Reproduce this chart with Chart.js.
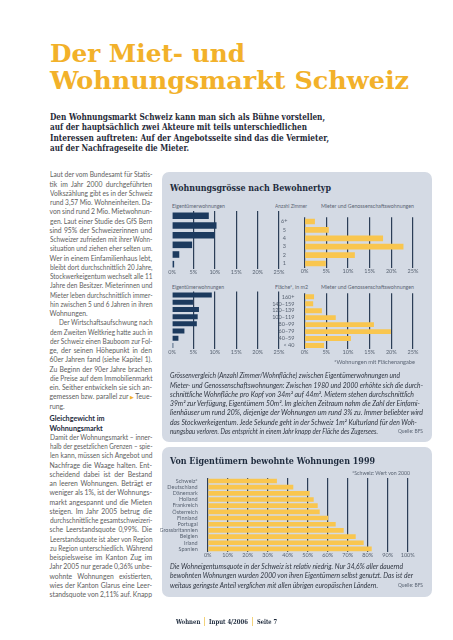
<!DOCTYPE html>
<html lang="de">
<head>
<meta charset="utf-8">
<title>Der Miet- und Wohnungsmarkt Schweiz</title>
<script src="https://cdn.jsdelivr.net/npm/chart.js@4.4.1/dist/chart.umd.min.js"></script>
<style>
html, body { margin: 0; background: #fff; }
#page { position: relative; width: 453px; height: 640px; overflow: hidden; font-family: Lato, "Open Sans", sans-serif; }
.abs { position: absolute; white-space: nowrap; }
.slab { font-family: "DejaVu Serif Condensed", "DejaVu Serif", serif; font-weight: bold; }
.fit { display: inline-block; transform-origin: 0 50%; }
canvas { position: absolute; }
.panel { position: absolute; background: #d4dae4; border-radius: 7px; }
.hl { left: 50px; font-size: 25px; line-height: 25px; color: #f2b12a; }
.lead { left: 50px; font-size: 8.8px; line-height: 10.3px; color: #1f2937; }
.ptitle { left: 170px; font-size: 9.5px; line-height: 11px; color: #1e2b3d; }
.sub { font-size: 5.5px; line-height: 7px; color: #5a6473; }
.col { position: absolute; left: 49.5px; width: 102.5px; font-size: 6.8px; line-height: 9.25px; color: #5e5e5e; }
.col div { white-space: nowrap; height: 9.25px; }
.col span { display: inline-block; transform-origin: 0 50%; }
.col .h { font-weight: bold; color: #1e2b3d; font-size: 7.2px; }
.cap { position: absolute; left: 170px; font-style: italic; font-size: 7.3px; line-height: 9.3px; color: #2f3540; }
.cap div { white-space: nowrap; height: 9.3px; }
.tri { color: #f2b12a; font-family: "DejaVu Sans", sans-serif; font-size: 5px; }
.foot { font-size: 6.8px; line-height: 8px; color: #1e2b3d; top: 618px; }
.sep { position: absolute; top: 617px; width: 1px; height: 9px; background: #f3d27a; }
</style>
</head>
<body>
<div id="page">

  <div class="abs slab hl" style="top:41px"><span class="fit" data-w="195">Der Miet- und</span></div>
  <div class="abs slab hl" style="top:68px"><span class="fit" data-w="359">Wohnungsmarkt Schweiz</span></div>

  <div class="abs slab lead" style="top:112px"><span class="fit" data-w="275">Den Wohnungsmarkt Schweiz kann man sich als Bühne vorstellen,</span></div>
  <div class="abs slab lead" style="top:122.3px"><span class="fit" data-w="257">auf der hauptsächlich zwei Akteure mit teils unterschiedlichen</span></div>
  <div class="abs slab lead" style="top:132.6px"><span class="fit" data-w="279">Interessen auftreten: Auf der Angebotsseite sind das die Vermieter,</span></div>
  <div class="abs slab lead" style="top:142.9px"><span class="fit" data-w="139">auf der Nachfrageseite die Mieter.</span></div>

  <div class="col" style="top:170.4px">
    <div class="j"><span>Laut der vom Bundesamt für Statis-</span></div>
    <div class="j"><span>tik im Jahr 2000 durchgeführten</span></div>
    <div class="j"><span>Volkszählung gibt es in der Schweiz</span></div>
    <div class="j"><span>rund 3,57 Mio. Wohneinheiten. Da-</span></div>
    <div class="j"><span>von sind rund 2 Mio. Mietwohnun-</span></div>
    <div class="j"><span>gen. Laut einer Studie des GfS Bern</span></div>
    <div class="j"><span>sind 95% der Schweizerinnen und</span></div>
    <div class="j"><span>Schweizer zufrieden mit ihrer Wohn-</span></div>
    <div class="j"><span>situation und ziehen eher selten um.</span></div>
    <div class="j"><span>Wer in einem Einfamilienhaus lebt,</span></div>
    <div class="j"><span>bleibt dort durchschnittlich 20 Jahre,</span></div>
    <div class="j"><span>Stockwerkeigentum wechselt alle 11</span></div>
    <div class="j"><span>Jahre den Besitzer. Mieterinnen und</span></div>
    <div class="j"><span>Mieter leben durchschnittlich immer-</span></div>
    <div class="j"><span>hin zwischen 5 und 6 Jahren in ihren</span></div>
    <div class="e"><span>Wohnungen.</span></div>
    <div class="j" style="padding-left:9px"><span>Der Wirtschaftsaufschwung nach</span></div>
    <div class="j"><span>dem Zweiten Weltkrieg hatte auch in</span></div>
    <div class="j"><span>der Schweiz einen Bauboom zur Fol-</span></div>
    <div class="j"><span>ge, der seinen Höhepunkt in den</span></div>
    <div class="j"><span>60er Jahren fand (siehe Kapitel 1).</span></div>
    <div class="j"><span>Zu Beginn der 90er Jahre brachen</span></div>
    <div class="j"><span>die Preise auf dem Immobilienmarkt</span></div>
    <div class="j"><span>ein. Seither entwickeln sie sich an-</span></div>
    <div class="j"><span>gemessen bzw. parallel zur <b class="tri">▶</b> Teue-</span></div>
    <div class="e"><span>rung.</span></div>
  </div>

  <div class="col" style="top:414.4px">
    <div class="e h"><span>Gleichgewicht im</span></div>
    <div class="e h"><span>Wohnungsmarkt</span></div>
    <div class="j"><span>Damit der Wohnungsmarkt – inner-</span></div>
    <div class="j"><span>halb der gesetzlichen Grenzen – spie-</span></div>
    <div class="j"><span>len kann, müssen sich Angebot und</span></div>
    <div class="j"><span>Nachfrage die Waage halten. Ent-</span></div>
    <div class="j"><span>scheidend dabei ist der Bestand</span></div>
    <div class="j"><span>an leeren Wohnungen. Beträgt er</span></div>
    <div class="j"><span>weniger als 1%, ist der Wohnungs-</span></div>
    <div class="j"><span>markt angespannt und die Mieten</span></div>
    <div class="j"><span>steigen. Im Jahr 2005 betrug die</span></div>
    <div class="j"><span>durchschnittliche gesamtschweizeri-</span></div>
    <div class="j"><span>sche Leerstandsquote 0,99%. Die</span></div>
    <div class="j"><span>Leerstandsquote ist aber von Region</span></div>
    <div class="j"><span>zu Region unterschiedlich. Während</span></div>
    <div class="j"><span>beispielsweise im Kanton Zug im</span></div>
    <div class="j"><span>Jahr 2005 nur gerade 0,36% unbe-</span></div>
    <div class="j"><span>wohnte Wohnungen existierten,</span></div>
    <div class="j"><span>wies der Kanton Glarus eine Leer-</span></div>
    <div class="j"><span>standsquote von 2,11% auf. Knapp</span></div>
  </div>

  <!-- panel 1 -->
  <div class="panel" style="left:162px; top:172px; width:270px; height:270px"></div>
  <div class="abs slab ptitle" style="top:181.8px"><span class="fit" data-w="161">Wohnungsgrösse nach Bewohnertyp</span></div>
  <div class="abs sub" style="left:171.7px; top:202.5px"><span class="fit" data-w="53">Eigentümerwohnungen</span></div>
  <div class="abs sub" style="left:275px; top:202.5px"><span class="fit" data-w="32">Anzahl Zimmer</span></div>
  <div class="abs sub" style="left:320.7px; top:202.5px"><span class="fit" data-w="93">Mieter und Genossenschaftswohnungen</span></div>
  <div class="abs sub" style="left:171.7px; top:283.5px"><span class="fit" data-w="52">Eigentümerwohnungen</span></div>
  <div class="abs sub" style="left:275px; top:283.5px"><span class="fit" data-w="33">Fläche*, in m2</span></div>
  <div class="abs sub" style="left:320.7px; top:283.5px"><span class="fit" data-w="93">Mieter und Genossenschaftswohnungen</span></div>
  <canvas id="roomOwn"></canvas>
  <canvas id="roomTen"></canvas>
  <canvas id="areaOwn"></canvas>
  <canvas id="areaTen"></canvas>
  <div class="abs sub" style="left:334px; top:358.5px"><span class="fit" data-w="81">*Wohnungen mit Flächenangabe</span></div>
  <div class="cap" style="top:371.3px">
    <div><span class="fit" data-w="230">Grössenvergleich (Anzahl Zimmer/Wohnfläche) zwischen Eigentümerwohnungen und</span></div>
    <div><span class="fit" data-w="253">Mieter- und Genossenschaftswohnungen: Zwischen 1980 und 2000 erhöhte sich die durch-</span></div>
    <div><span class="fit" data-w="244">schnittliche Wohnfläche pro Kopf von 34m² auf 44m². Mietern stehen durchschnittlich</span></div>
    <div><span class="fit" data-w="250">39m² zur Verfügung, Eigentümern 50m². Im gleichen Zeitraum nahm die Zahl der Einfami-</span></div>
    <div><span class="fit" data-w="253">lienhäuser um rund 20%, diejenige der Wohnungen um rund 3% zu. Immer beliebter wird</span></div>
    <div><span class="fit" data-w="247">das Stockwerkeigentum. Jede Sekunde geht in der Schweiz 1m² Kulturland für den Woh-</span></div>
    <div><span class="fit" data-w="208">nungsbau verloren. Das entspricht in einem Jahr knapp der Fläche des Zugersees.</span></div>
  </div>
  <div class="abs sub" style="left:398px; top:428.4px"><span class="fit" data-w="25">Quelle: BFS</span></div>

  <!-- panel 2 -->
  <div class="panel" style="left:162px; top:446.5px; width:270px; height:150.5px"></div>
  <div class="abs slab ptitle" style="top:454.5px"><span class="fit" data-w="205">Von Eigentümern bewohnte Wohnungen 1999</span></div>
  <div class="abs sub" style="left:352px; top:469.5px"><span class="fit" data-w="58">*Schweiz: Wert von 2000</span></div>
  <canvas id="owners"></canvas>
  <div class="cap" style="top:562px">
    <div><span class="fit" data-w="233">Die Wohneigentumsquote in der Schweiz ist relativ niedrig. Nur 34,6% aller dauernd</span></div>
    <div><span class="fit" data-w="243">bewohnten Wohnungen wurden 2000 von ihren Eigentümern selbst genutzt. Das ist der</span></div>
    <div><span class="fit" data-w="208">weitaus geringste Anteil verglichen mit allen übrigen europäischen Ländern.</span></div>
  </div>
  <div class="abs sub" style="left:398px; top:581.8px"><span class="fit" data-w="25">Quelle: BFS</span></div>

  <!-- footer -->
  <div class="abs slab foot" style="left:175.7px"><span class="fit" data-w="24.3">Wohnen</span></div>
  <div class="sep" style="left:204px"></div>
  <div class="abs slab foot" style="left:209px"><span class="fit" data-w="39">Input 4/2006</span></div>
  <div class="sep" style="left:252px"></div>
  <div class="abs slab foot" style="left:257px"><span class="fit" data-w="20">Seite 7</span></div>
</div>

<script>
// Wohnungsgrösse nach Anzahl Zimmer (Anteil an allen Wohnungen, %)
const roomLabels = ['6+', '5', '4', '3', '2', '1'];
const roomOwners = [8.6, 10.4, 10.0, 4.7, 1.7, 0.5];
const roomTenants = [2.4, 5.6, 18.1, 22.8, 11.6, 4.9];

// Wohnungsgrösse nach Fläche in m2 (%)
const areaLabels = ['160+', '140–159', '120–139', '100–119', '80–99', '60–79', '40–59', '< 40'];
const areaOwners = [9.3, 4.9, 6.3, 6.0, 5.8, 2.9, 1.5, 0.3];
const areaTenants = [2.2, 2.0, 4.0, 7.2, 16.0, 19.9, 10.7, 4.5];

// Von Eigentümern bewohnte Wohnungen 1999 (%)
const countries = ['Schweiz*', 'Deutschland', 'Dänemark', 'Holland', 'Frankreich', 'Österreich',
  'Finnland', 'Portugal', 'Grossbritannien', 'Belgien', 'Irland', 'Spanien'];
const ownerRates = [34.6, 42.8, 51, 53, 55, 56, 60.3, 64, 68, 74, 78, 82];

const navy = '#1c3a5e';
const yellow = '#f9c64f';
const gridColor = '#2c3e57';
const labelColor = '#5a6473';

Chart.defaults.font.family = 'Lato, "Open Sans", sans-serif';

function barChart(id, box, labels, values, color, o) {
    const cv = document.getElementById(id);
    cv.width = box.w;
    cv.height = box.h;
    cv.style.left = box.x + 'px';
    cv.style.top = box.y + 'px';
    return new Chart(cv, {
        type: 'bar',
        data: {
            labels: labels,
            datasets: [{
                data: values,
                backgroundColor: color,
                barPercentage: o.bar,
                categoryPercentage: 1
            }]
        },
        options: {
            indexAxis: 'y',
            responsive: false,
            animation: false,
            events: [],
            layout: { padding: o.pad },
            plugins: { legend: { display: false }, tooltip: { enabled: false } },
            scales: {
                x: {
                    min: 0,
                    max: o.max,
                    ticks: {
                        stepSize: o.step,
                        autoSkip: false,
                        maxRotation: 0,
                        padding: 0,
                        color: labelColor,
                        font: { size: 5.5 },
                        callback: v => v + '%'
                    },
                    grid: {
                        drawTicks: false,
                        lineWidth: 1.2,
                        color: ctx => (ctx.tick && ctx.tick.value === 0 && !o.zeroLine) ? 'rgba(0,0,0,0)' : gridColor
                    },
                    border: { display: false },
                    afterFit: s => { s.height = o.xh; }
                },
                y: {
                    display: o.yw > 0,
                    grid: { display: false },
                    border: { display: false },
                    ticks: {
                        autoSkip: false,
                        padding: o.ypad || 2,
                        crossAlign: o.cross || 'near',
                        color: labelColor,
                        font: { size: 5.5 }
                    },
                    afterFit: s => { s.width = o.yw; }
                }
            }
        }
    });
}

function drawCharts() {
    barChart('roomOwn', { x: 160, y: 205, w: 130, h: 75 }, roomLabels, roomOwners, navy,
        { bar: 0.68, max: 25, step: 5, xh: 11, yw: 0, pad: { left: 12, right: 11, top: 6, bottom: 0 } });
    barChart('roomTen', { x: 268, y: 205, w: 157, h: 75 }, roomLabels, roomTenants, yellow,
        { bar: 0.68, max: 25, step: 5, xh: 11, yw: 36.5, ypad: 9, cross: 'center', zeroLine: true,
          pad: { left: 0, right: 12, top: 6, bottom: 0 } });
    barChart('areaOwn', { x: 160, y: 288, w: 130, h: 72 }, areaLabels, areaOwners, navy,
        { bar: 0.7, max: 25, step: 5, xh: 11, yw: 0, pad: { left: 12, right: 11, top: 3.5, bottom: 0 } });
    barChart('areaTen', { x: 268, y: 288, w: 157, h: 72 }, areaLabels, areaTenants, yellow,
        { bar: 0.7, max: 25, step: 5, xh: 11, yw: 36.5, ypad: 2, zeroLine: true,
          pad: { left: 0, right: 12, top: 3.5, bottom: 0 } });
    barChart('owners', { x: 160, y: 472, w: 260, h: 90 }, countries, ownerRates, yellow,
        { bar: 0.75, max: 100, step: 10, xh: 10, yw: 47.7, ypad: 2, zeroLine: true,
          pad: { left: 0, right: 12.3, top: 5.9, bottom: 0 } });
}

function fitText() {
    document.querySelectorAll('.fit[data-w]').forEach(el => {
        const nat = el.getBoundingClientRect().width;
        if (nat > 0) el.style.transform = 'scaleX(' + (+el.dataset.w / nat) + ')';
    });
    document.querySelectorAll('.col > div').forEach(div => {
        const span = div.firstElementChild;
        const target = div.getBoundingClientRect().width - (parseFloat(getComputedStyle(div).paddingLeft) || 0);
        const nat = span.getBoundingClientRect().width;
        const spaces = (span.textContent.match(/ /g) || []).length;
        if (div.classList.contains('j') && spaces) {
            const ws = (target - nat) / spaces;
            if (ws >= -0.4) {
                span.style.wordSpacing = ws + 'px';
                return;
            }
        }
        if (nat > target) span.style.transform = 'scaleX(' + (target / nat) + ')';
    });
}

document.fonts.ready.then(() => {
    fitText();
    drawCharts();
});
</script>
</body>
</html>
